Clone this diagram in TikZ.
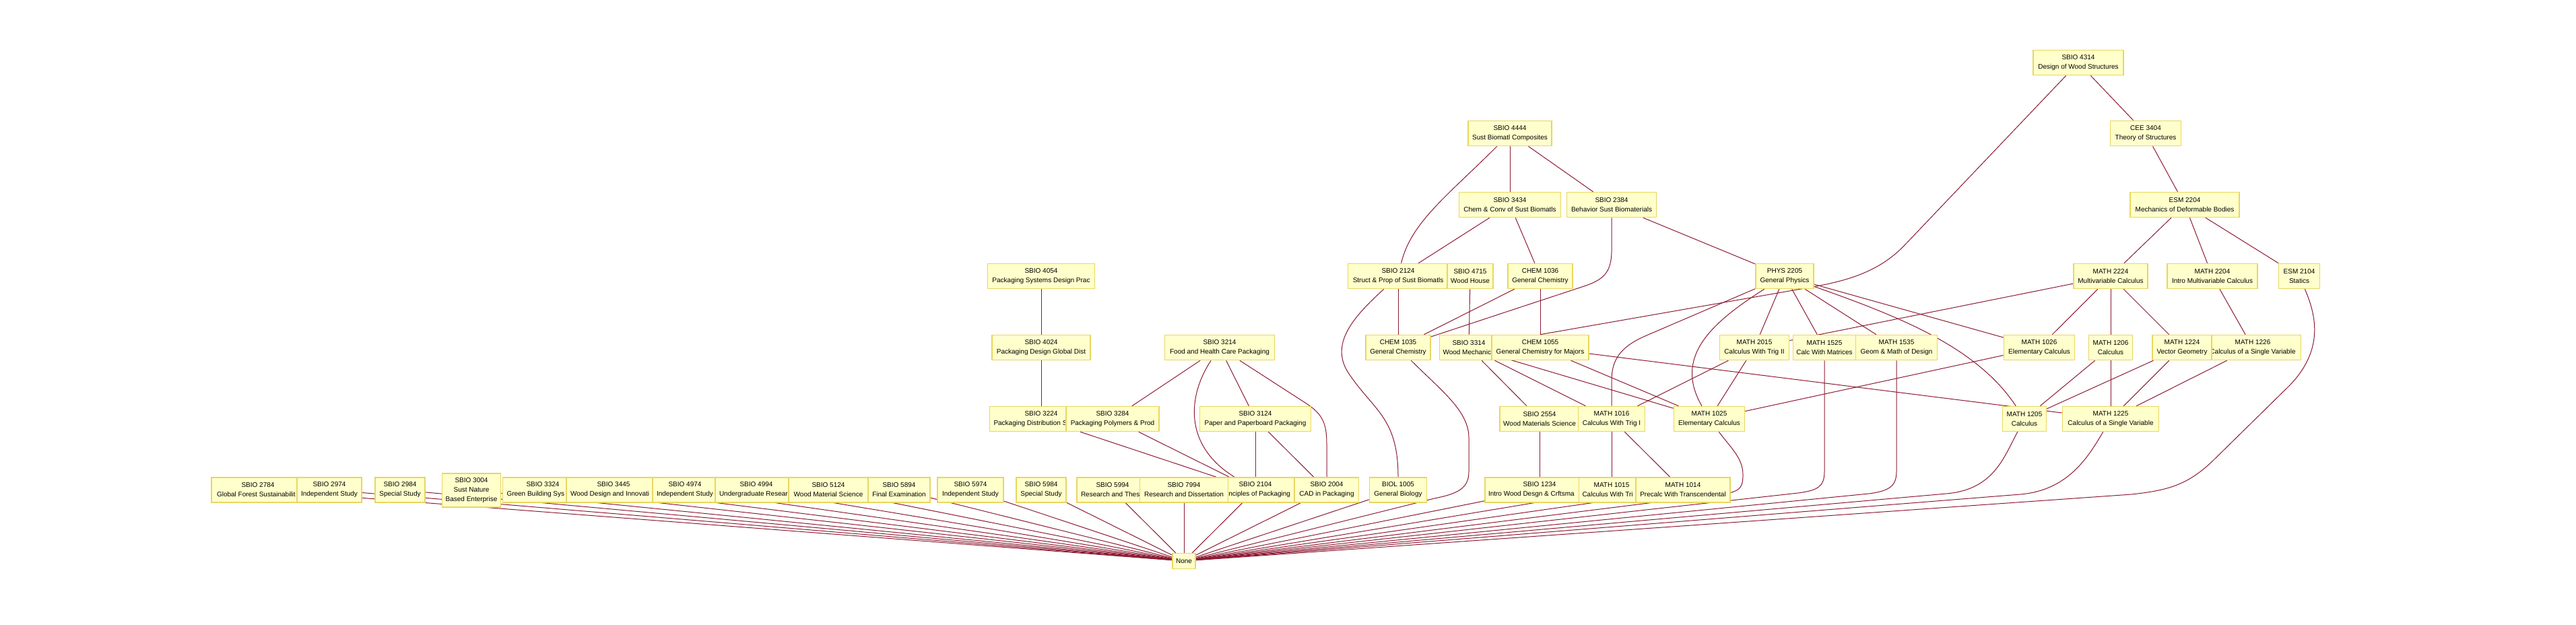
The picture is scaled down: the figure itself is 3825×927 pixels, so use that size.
\documentclass[tikz,border=0pt]{standalone}
\usepackage{fontspec}
\setmainfont{Liberation Sans}
\usetikzlibrary{backgrounds}
\definecolor{edgec}{RGB}{140,26,50}
\definecolor{nfill}{RGB}{255,255,204}
\definecolor{nborder}{RGB}{232,214,96}
\tikzset{
  crs/.style={draw=nborder, fill=nfill, line width=1.6pt, font=\fontsize{10}{14}\selectfont, align=center, minimum height=37pt, inner xsep=5pt, inner ysep=2pt},
  lnk/.style={draw=edgec, line width=1pt},
}
\newcommand{\crsnode}[5]{\node[crs, minimum width=#4pt] (#1) at (#2,#3) {#5};}
\begin{document}
\begin{tikzpicture}[x=1pt,y=-1pt]
\useasboundingbox (0,0) rectangle (3825,927);
% Row A
\crsnode{n4314}{3086}{93}{134}{SBIO 4314\\Design of Wood Structures}
% Row B
\crsnode{n4444}{2242}{198}{124}{SBIO 4444\\Sust Biomatl Composites}
\crsnode{c3404}{3186}{198}{105}{CEE 3404\\Theory of Structures}
% Row C
\crsnode{n3434}{2242}{304}{151}{SBIO 3434\\Chem \& Conv of Sust Biomatls}
\crsnode{n2384}{2393}{304}{133}{SBIO 2384\\Behavior Sust Biomaterials}
\crsnode{e2204}{3244}{304}{162}{ESM 2204\\Mechanics of Deformable Bodies}
% Row D
\crsnode{n4054}{1546}{410}{159}{SBIO 4054\\Packaging Systems Design Prac}
\crsnode{n2124}{2076}{410}{149}{SBIO 2124\\Struct \& Prop of Sust Biomatls}
\crsnode{n4715}{2183}{410}{66}{SBIO 4715\\Wood House}
\crsnode{ch1036}{2287}{410}{96}{CHEM 1036\\General Chemistry}
\crsnode{p2205}{2650}{410}{86}{PHYS 2205\\General Physics}
\crsnode{m2224}{3134}{410}{110}{MATH 2224\\Multivariable Calculus}
\crsnode{m2204}{3285}{410}{134}{MATH 2204\\Intro Multivariable Calculus}
\crsnode{e2104}{3414}{410}{61}{ESM 2104\\Statics}
% Row E
\crsnode{n4024}{1546}{516}{146}{SBIO 4024\\Packaging Design Global Dist}
\crsnode{n3214}{1811}{516}{163}{SBIO 3214\\Food and Health Care Packaging}
\crsnode{ch1035}{2076}{516}{96}{CHEM 1035\\General Chemistry}
\crsnode{n3314}{2181}{516}{86}{SBIO 3314\\\makebox[77pt][l]{Wood Mechanic}}
\crsnode{ch1055}{2287}{516}{144}{CHEM 1055\\General Chemistry for Majors}
\crsnode{m2015}{2605}{516}{103}{MATH 2015\\Calculus With Trig II}
\crsnode{m1525}{2709}{516}{93}{MATH 1525\\Calc With Matrices}
\crsnode{m1535}{2816}{516}{121}{MATH 1535\\Geom \& Math of Design}
\crsnode{m1026}{3028}{516}{105}{MATH 1026\\Elementary Calculus}
\crsnode{m1206}{3134}{516}{65}{MATH 1206\\Calculus}
\crsnode{m1226}{3345}{516}{143}{MATH 1226\\Calculus of a Single Variable}
\crsnode{m1224}{3240}{516}{88}{MATH 1224\\Vector Geometry}
% Row F
\crsnode{n3224}{1546}{622}{153}{SBIO 3224\\\makebox[141pt][l]{Packaging Distribution S}}
\crsnode{n3284}{1652}{622}{138}{SBIO 3284\\Packaging Polymers \& Prod}
\crsnode{n3124}{1864}{622}{165}{SBIO 3124\\Paper and Paperboard Packaging}
\crsnode{n2554}{2286}{622}{118}{SBIO 2554\\Wood Materials Science}
\crsnode{m1016}{2393}{622}{99}{MATH 1016\\Calculus With Trig I}
\crsnode{m1025}{2538}{622}{105}{MATH 1025\\Elementary Calculus}
\crsnode{m1205}{3006}{622}{65}{MATH 1205\\Calculus}
\crsnode{m1225}{3134}{622}{143}{MATH 1225\\Calculus of a Single Variable}
% Row G
\crsnode{n2784}{383}{727.5}{138}{SBIO 2784\\\makebox[122pt][l]{Global Forest Sustainabilit}}
\crsnode{n2974}{489}{727.5}{96}{SBIO 2974\\Independent Study}
\crsnode{n2984}{594}{727.5}{74}{SBIO 2984\\Special Study}
\node[crs, minimum width=87pt, minimum height=50pt] (n3004) at (700,728) {SBIO 3004\\Sust Nature\\Based Enterprise};
\crsnode{n3324}{806}{727.5}{119}{SBIO 3324\\\makebox[107pt][l]{Green Building Sys}}
\crsnode{n3445}{911}{727.5}{140}{SBIO 3445\\\makebox[128pt][l]{Wood Design and Innovati}}
\crsnode{n4974}{1017}{727.5}{96}{SBIO 4974\\Independent Study}
\crsnode{n4994}{1123}{727.5}{122}{SBIO 4994\\\makebox[110pt][l]{Undergraduate Resear}}
\crsnode{n5124}{1230}{727.5}{118}{SBIO 5124\\Wood Material Science}
\crsnode{n5894}{1335}{727.5}{92}{SBIO 5894\\Final Examination}
\crsnode{n5974}{1441}{727.5}{98}{SBIO 5974\\Independent Study}
\crsnode{n5984}{1546}{727.5}{74}{SBIO 5984\\Special Study}
\crsnode{n5994}{1652}{727.5}{106}{SBIO 5994\\\makebox[94pt][l]{Research and Thes}}
\crsnode{n2104}{1864}{727.5}{116}{SBIO 2104\\\makebox[104pt][r]{nciples of Packaging}}
\crsnode{n7994}{1758}{727.5}{131}{SBIO 7994\\Research and Dissertation}
\crsnode{n2004}{1970}{727.5}{95}{SBIO 2004\\CAD in Packaging}
\crsnode{b1005}{2076}{727.5}{85}{BIOL 1005\\General Biology}
\crsnode{n1234}{2286}{727.5}{162}{SBIO 1234\\\makebox[152pt][l]{Intro Wood Desgn \& Crftsma}}
\crsnode{m1015}{2393}{727.5}{97}{MATH 1015\\\makebox[87pt][l]{Calculus With Tri}}
\crsnode{m1014}{2499}{727.5}{140}{MATH 1014\\Precalc With Transcendental}
% Row H
\node[crs, minimum width=34pt, minimum height=23pt] (none) at (1758,833) {None};

\begin{scope}[on background layer]
\fill[white] (0,0) rectangle (3825,927);
% straight connectors
\draw[lnk] (n4314) -- (c3404);
\draw[lnk] (c3404) -- (e2204);
\draw[lnk] (e2204) -- (m2224);
\draw[lnk] (e2204) -- (m2204);
\draw[lnk] (e2204) -- (e2104);
\draw[lnk] (n4444) -- (n3434);
\draw[lnk] (n4444) -- (n2384);
\draw[lnk] (n3434) -- (n2124);
\draw[lnk] (n3434) -- (ch1036);
\draw[lnk] (n2384) -- (p2205);
\draw[lnk] (n4054) -- (n4024);
\draw[lnk] (n4024) -- (n3224);
\draw[lnk] (n2124) -- (ch1035);
\draw[lnk] (n4715) -- (n3314);
\draw[lnk] (ch1036) -- (ch1035);
\draw[lnk] (ch1036) -- (ch1055);
\draw[lnk] (p2205) -- (m2015);
\draw[lnk] (p2205) -- (m1525);
\draw[lnk] (p2205) -- (m1535);
\draw[lnk] (p2205) -- (m1026);
\draw[lnk] (m2224) -- (m2015);
\draw[lnk] (m2224) -- (m1026);
\draw[lnk] (m2224) -- (m1206);
\draw[lnk] (m2224) -- (m1224);
\draw[lnk] (m2204) -- (m1226);
\draw[lnk] (n3214) -- (n3284);
\draw[lnk] (n3214) -- (n3124);
\draw[lnk] (n3314) -- (n2554);
\draw[lnk] (n3314) -- (m1016);
\draw[lnk] (n3314) -- (m1025);
\draw[lnk] (ch1055) -- (m1025);
\draw[lnk] (ch1055) -- (m1225);
\draw[lnk] (m2015) -- (m1016);
\draw[lnk] (m2015) -- (m1025);
\draw[lnk] (m1026) -- (m1025);
\draw[lnk] (m1206) -- (m1205);
\draw[lnk] (m1206) -- (m1225);
\draw[lnk] (m1224) -- (m1205);
\draw[lnk] (m1224) -- (m1225);
\draw[lnk] (m1226) -- (m1225);
\draw[lnk] (n3224) -- (n2104);
\draw[lnk] (n3284) -- (n2104);
\draw[lnk] (n3124) -- (n2104);
\draw[lnk] (n3124) -- (n2004);
\draw[lnk] (n2554) -- (n1234);
\draw[lnk] (m1016) -- (m1015);
\draw[lnk] (m1016) -- (m1014);
% to None
\foreach \n in {n2784,n2974,n2984,n3004,n3324,n3445,n4974,n4994,n5124,n5894,n5974,n5984,n5994,n7994,n2104,n2004,b1005,n1234,m1015,m1014}
  \draw[lnk] (\n) -- (none);
% curved connectors
\draw[lnk] (n4444) .. controls (2150,290) and (2095,330) .. (n2124);
\draw[lnk] (n2124) .. controls (2010,470) and (1973,511) .. (2003,555) .. controls (2040,610) and (2076,620) .. (b1005);
\draw[lnk] (n2384) -- (2393,372) .. controls (2393,405) and (2380,415) .. (2355,424) -- (ch1035);
\draw[lnk] (n4314) -- (2830,362) .. controls (2790,405) and (2740,418) .. (2680,428) -- (ch1055.north);
\draw[lnk] (p2205) -- (2445,498) .. controls (2405,515) and (2393,535) .. (2393,565) -- (m1016);
\draw[lnk] (p2205) .. controls (2540,480) and (2485,530) .. (m1025);
\draw[lnk] (p2205) .. controls (2820,470) and (2935,515) .. (m1205);
\draw[lnk] (m1205) .. controls (2975,680) and (2960,727) .. (2890,733) -- (none);
\draw[lnk] (m1225) .. controls (3100,680) and (3070,728) .. (3000,734) -- (none);
\draw[lnk] (m1525) -- (2709,700) .. controls (2709,722) and (2700,728) .. (2670,732) -- (none);
\draw[lnk] (m1535) -- (2816,700) .. controls (2816,722) and (2805,729) .. (2775,733) -- (none);
\draw[lnk] (e2104) .. controls (3440,470) and (3450,520) .. (3400,572) -- (3290,680) .. controls (3250,720) and (3220,728) .. (3165,734) -- (none);
\draw[lnk] (ch1035) .. controls (2140,580) and (2181,610) .. (2181,650) -- (2181,700) .. controls (2181,725) and (2165,733) .. (2130,740) -- (none);
\draw[lnk] (m1025) .. controls (2570,665) and (2588,680) .. (2588,705) .. controls (2588,722) and (2585,730) .. (2560,733) -- (none);
\draw[lnk] (n3214) .. controls (1765,585) and (1755,660) .. (n2104);
\draw[lnk] (n3214) -- (1938,598) .. controls (1965,615) and (1970,630) .. (1970,660) -- (n2004);
\end{scope}
\end{tikzpicture}
\end{document}
